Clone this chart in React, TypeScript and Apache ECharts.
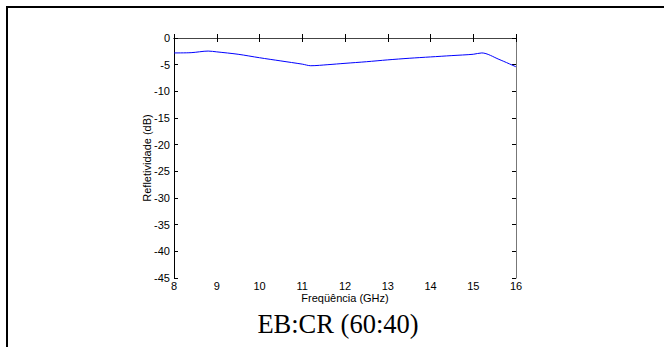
import React, { useEffect, useRef } from "react";
import * as echarts from "echarts";

const freqGHz = [8, 8.4, 8.8, 9, 9.5, 10, 10.5, 11, 11.2, 11.6, 12, 12.5, 13, 13.5, 14, 14.5, 15, 15.2, 15.6, 16];
const reflectivityDb = [-2.8, -2.75, -2.45, -2.6, -3.05, -3.7, -4.3, -4.9, -5.2, -5.0, -4.75, -4.45, -4.1, -3.8, -3.55, -3.3, -3.05, -2.8, -4.0, -5.4];
const xTitle = "Freqüência (GHz)";
const yTitle = "Refletividade (dB)";
const caption = "EB:CR (60:40)";

const sans = "Liberation Sans, Arial, sans-serif";

export default function App() {
  const ref = useRef<HTMLDivElement>(null);
  useEffect(() => {
    if (!ref.current) return;
    const chart = echarts.init(ref.current, undefined, { renderer: "svg" });
    const data = freqGHz.map((x, i) => [x, reflectivityDb[i]]);
    const tickStyle = { inside: true, length: 4, lineStyle: { color: "#000", width: 1 } };
    chart.setOption({
      animation: false,
      backgroundColor: "#fff",
      grid: { left: 174, top: 38, width: 342, height: 240, containLabel: false },
      xAxis: [
        {
          type: "value", min: 8, max: 16, interval: 1, position: "bottom",
          axisLine: { show: true, lineStyle: { color: "#000", width: 1 } },
          axisTick: tickStyle,
          splitLine: { show: false },
          axisLabel: { color: "#000", fontSize: 11, fontFamily: sans, margin: 2 },
          name: xTitle, nameLocation: "middle", nameGap: 14, nameMoveOverlap: false,
          nameTextStyle: { color: "#000", fontSize: 11, fontFamily: sans },
        },
        {
          type: "value", min: 8, max: 16, interval: 1, position: "top",
          axisLine: { show: true, lineStyle: { color: "#444", width: 1 } },
          axisTick: tickStyle,
          splitLine: { show: false },
          axisLabel: { show: false },
        },
      ],
      yAxis: [
        {
          type: "value", min: -45, max: 0, interval: 5, position: "left",
          axisLine: { show: true, lineStyle: { color: "#000", width: 1 } },
          axisTick: tickStyle,
          splitLine: { show: false },
          axisLabel: { color: "#000", fontSize: 11, fontFamily: sans, margin: 4 },
          name: yTitle, nameLocation: "middle", nameGap: 22, nameMoveOverlap: false,
          nameTextStyle: { color: "#000", fontSize: 11, fontFamily: sans },
        },
        {
          type: "value", min: -45, max: 0, interval: 5, position: "right",
          axisLine: { show: true, lineStyle: { color: "#777", width: 1 } },
          axisTick: tickStyle,
          splitLine: { show: false },
          axisLabel: { show: false },
        },
      ],
      series: [
        {
          type: "line",
          data,
          xAxisIndex: 0,
          yAxisIndex: 0,
          showSymbol: false,
          smooth: 0.3,
          lineStyle: { color: "#0000ff", width: 1 },
        },
      ],
      graphic: [
        { type: "line", shape: { x1: 6, y1: 7, x2: 664, y2: 7 }, style: { stroke: "#000", lineWidth: 2 } },
        { type: "line", shape: { x1: 7, y1: 7, x2: 7, y2: 347 }, style: { stroke: "#000", lineWidth: 2 } },
        {
          type: "text", x: 338, y: 324,
          style: { text: caption, fill: "#000", fontSize: 26.5, fontFamily: "Liberation Serif, Times New Roman, serif", textAlign: "center", textVerticalAlign: "middle" },
        },
      ],
    });
    return () => chart.dispose();
  }, []);
  return <div ref={ref} style={{ position: "absolute", left: 0, top: 0, width: 665, height: 347 }} />;
}
